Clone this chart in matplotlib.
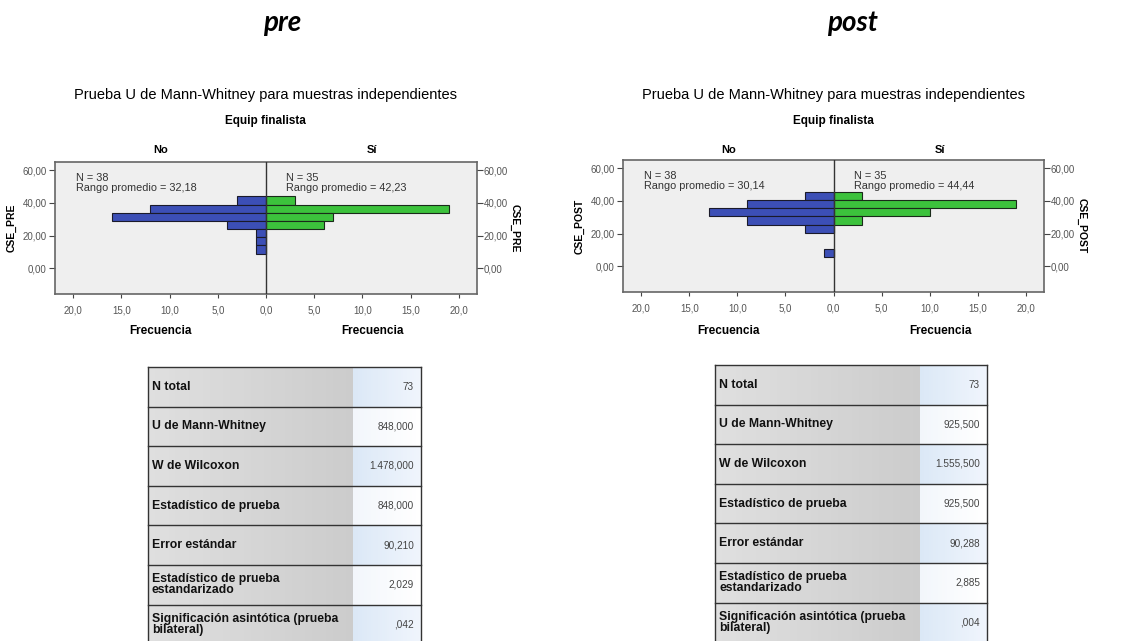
import numpy as np
import matplotlib
matplotlib.use("Agg")
import matplotlib.pyplot as plt
from matplotlib.patches import Rectangle
from matplotlib.ticker import FuncFormatter, FixedLocator

W, H = 1126, 641
DPI = 100

# ---------------- data ----------------
panel_titles = ["pre", "post"]
main_title = "Prueba U de Mann-Whitney para muestras independientes"
group_title = "Equip finalista"
group_names = ["No", "Sí"]
y_labels = ["CSE_PRE", "CSE_POST"]

pre_bins = [41.5, 36.5, 31.5, 26.5, 21.5, 16.5, 11.5]
pre_no = [3, 12, 16, 4, 1, 1, 1]
pre_si = [3, 19, 7, 6, 0, 0, 0]

post_bins = [43.0, 38.0, 33.0, 28.0, 23.0, 8.0]
post_no = [3, 9, 13, 9, 3, 1]
post_si = [3, 19, 10, 3, 0, 0]

bin_width = 5.0
n_no = [38, 38]
n_si = [35, 35]
rank_no = ["32,18", "30,14"]
rank_si = ["42,23", "44,44"]

y_ticks = [0, 20, 40, 60]
x_ticks = [-20, -15, -10, -5, 0, 5, 10, 15, 20]

table_labels = ["N total", "U de Mann-Whitney", "W de Wilcoxon",
                "Estadístico de prueba", "Error estándar",
                "Estadístico de prueba\nestandarizado",
                "Significación asintótica (prueba\nbilateral)"]
pre_values = ["73", "848,000", "1.478,000", "848,000", "90,210", "2,029", ",042"]
post_values = ["73", "925,500", "1.555,500", "925,500", "90,288", "2,885", ",004"]

blue = "#3c4fb6"
green = "#3cc23c"
bg = "#efefef"

SANS = ["Liberation Sans", "DejaVu Sans"]
NARROW = ["Liberation Sans Narrow", "Liberation Sans", "DejaVu Sans"]

fig = plt.figure(figsize=(W / DPI, H / DPI), dpi=DPI)

# overlay axes in pixel coordinates for titles and tables
ov = fig.add_axes([0, 0, 1, 1], zorder=0)
ov.set_xlim(0, W)
ov.set_ylim(H, 0)
ov.axis("off")


def px_axes(x0, y0, x1, y1):
    return fig.add_axes([x0 / W, 1 - y1 / H, (x1 - x0) / W, (y1 - y0) / H], zorder=2)


panels = [
    dict(frame=(55, 162, 477, 294), bins=pre_bins, no=pre_no, si=pre_si,
         table=(148, 367, 421, 353), values=pre_values, title_x=282),
    dict(frame=(623, 160, 1044, 292), bins=post_bins, no=post_no, si=post_si,
         table=(715, 365, 987, 920), values=post_values, title_x=852),
]

fmt_y = FuncFormatter(lambda v, pos: f"{v:.2f}".replace(".", ","))
fmt_x = FuncFormatter(lambda v, pos: f"{abs(v):.1f}".replace(".", ","))

for i, p in enumerate(panels):
    x0, y0, x1, y1 = p["frame"]
    # big panel title
    ov.text(p["title_x"], 23, panel_titles[i], ha="center", va="center",
            fontsize=20, fontweight="bold", fontstyle="italic", family=["Lato", "DejaVu Sans"])
    # chart titles
    ov.text(x0 + 210, 95, main_title, ha="center", va="center", fontsize=10.5, family=SANS)
    ov.text(x0 + 210, 121, group_title, ha="center", va="center", fontsize=8.5,
            fontweight="bold", family=NARROW)
    ov.text(x0 + 106, 150, group_names[0], ha="center", va="center", fontsize=8,
            fontweight="bold", family=NARROW)
    ov.text(x0 + 317, 150, group_names[1], ha="center", va="center", fontsize=8,
            fontweight="bold", family=NARROW)
    ov.text(x0 + 106, 331, "Frecuencia", ha="center", va="center", fontsize=8.5,
            fontweight="bold", family=NARROW)
    ov.text(x0 + 317, 331, "Frecuencia", ha="center", va="center", fontsize=8.5,
            fontweight="bold", family=NARROW)

    ax = px_axes(x0, y0, x1, y1)
    ax.set_facecolor(bg)
    ax.set_xlim(-21.9, 21.9)
    ax.set_ylim(-15.7, 65)
    ax.barh(p["bins"], [-v for v in p["no"]], height=bin_width, color=blue,
            edgecolor="#1a1a2a", linewidth=0.8, zorder=3)
    ax.barh(p["bins"], p["si"], height=bin_width, color=green,
            edgecolor="#1a2a1a", linewidth=0.8, zorder=3)
    ax.axvline(0, color="#333333", linewidth=1.0, zorder=4)
    ax.xaxis.set_major_locator(FixedLocator(x_ticks))
    ax.xaxis.set_major_formatter(fmt_x)
    ax.yaxis.set_major_locator(FixedLocator(y_ticks))
    ax.yaxis.set_major_formatter(fmt_y)
    ax.tick_params(axis="both", labelsize=7, colors="#444444", length=4, width=0.8,
                   labelcolor="#555555", pad=2)
    ax.tick_params(axis="x", length=3, pad=5)
    for t in ax.get_xticklabels() + ax.get_yticklabels():
        t.set_family(SANS)
    for s in ax.spines.values():
        s.set_color("#666666")
        s.set_linewidth(1.2)
    ax.set_ylabel(y_labels[i], fontsize=7.5, fontweight="bold", family=NARROW, labelpad=4)
    ax2 = ax.twinx()
    ax2.set_ylim(ax.get_ylim())
    ax2.yaxis.set_major_locator(FixedLocator(y_ticks))
    ax2.yaxis.set_major_formatter(fmt_y)
    ax2.tick_params(axis="y", labelsize=7, colors="#444444", length=4, width=0.8,
                    labelcolor="#555555", pad=1)
    for t in ax2.get_yticklabels():
        t.set_family(SANS)
    for s in ax2.spines.values():
        s.set_visible(False)
    ax2.set_ylabel(y_labels[i], fontsize=7.5, fontweight="bold", family=NARROW,
                   rotation=-90, labelpad=8)
    ax.text(-19.7, 52.2, f"N = {n_no[i]}\nRango promedio = {rank_no[i]}", fontsize=7.8,
            family=SANS, va="center", ha="left", color="#333333", linespacing=1.1, zorder=5)
    ax.text(2.1, 52.2, f"N = {n_si[i]}\nRango promedio = {rank_si[i]}", fontsize=7.8,
            family=SANS, va="center", ha="left", color="#333333", linespacing=1.1, zorder=5)

    # table
    tx0, ty0, tx1, vx = p["table"]
    rh = 39.6
    nrows = len(table_labels)
    nstrip = 30
    for r in range(nrows):
        top = ty0 + r * rh
        for k in range(nstrip):
            f = k / (nstrip - 1)
            c = 0.875 - 0.075 * f
            ov.add_patch(Rectangle((tx0 + (vx - tx0) * k / nstrip, top), (vx - tx0) / nstrip + 0.5, rh,
                                   facecolor=(c, c, c), edgecolor="none", zorder=1))
        for k in range(nstrip):
            f = k / (nstrip - 1)
            if r % 2 == 0:
                c = (0.86 + 0.08 * f, 0.91 + 0.05 * f, 0.965 + 0.025 * f)
            else:
                c = (0.95 + 0.05 * f, 0.965 + 0.035 * f, 0.985 + 0.015 * f)
            ov.add_patch(Rectangle((vx + (tx1 - vx) * k / nstrip, top), (tx1 - vx) / nstrip + 0.5, rh,
                                   facecolor=c, edgecolor="none", zorder=1))
        ov.plot([tx0, tx1], [top, top], color="#333333", linewidth=1.0, zorder=2)
        ov.text(tx0 + 4, top + rh / 2, table_labels[r], ha="left", va="center", fontsize=8.8,
                fontweight="bold", family=NARROW, color="#111111", linespacing=0.9, zorder=3)
        ov.text(tx1 - 7, top + rh / 2, p["values"][r], ha="right", va="center", fontsize=7.2,
                family=SANS, color="#444444", zorder=3)
    bottom = ty0 + nrows * rh
    ov.plot([tx0, tx0], [ty0, bottom], color="#333333", linewidth=1.0, zorder=2)
    ov.plot([tx1, tx1], [ty0, bottom], color="#333333", linewidth=1.0, zorder=2)

fig.savefig("out.png", dpi=DPI)
